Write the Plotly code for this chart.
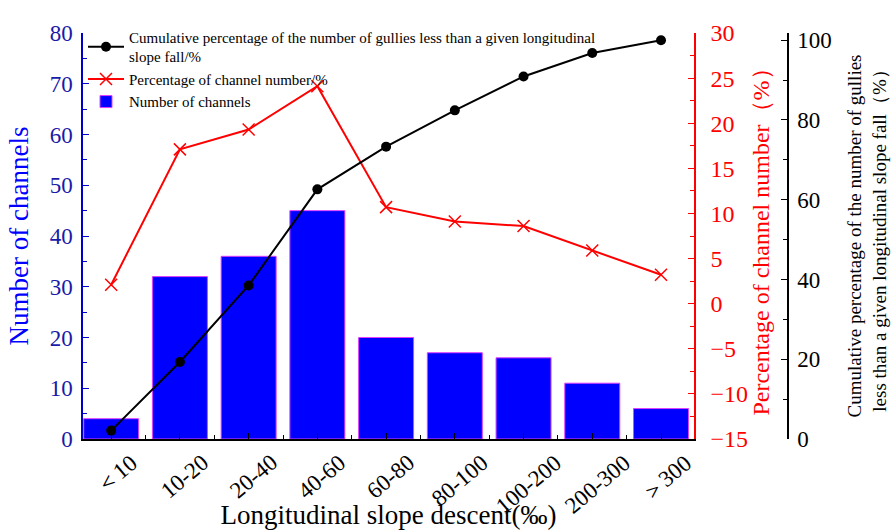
import plotly.graph_objects as go

categories = ["＜10", "10-20", "20-40", "40-60", "60-80", "80-100", "100-200", "200-300", "＞300"]
channel_counts = [4, 32, 36, 45, 20, 17, 16, 11, 6]
channel_percent = [2.1, 17.1, 19.3, 24.1, 10.7, 9.1, 8.6, 5.9, 3.2]
cumulative_percent = [2.1, 19.3, 38.5, 62.6, 73.3, 82.4, 90.9, 96.8, 100.0]

xpos = list(range(len(categories)))
FONT = "Liberation Serif, Times New Roman, serif"

fig = go.Figure()
fig.add_trace(go.Bar(
    x=xpos, y=channel_counts, name="Number of channels",
    marker=dict(color="#0000ff", line=dict(color="#e040ff", width=1)),
    width=0.8, yaxis="y", legendrank=3,
))
fig.add_trace(go.Scatter(
    x=xpos, y=cumulative_percent, yaxis="y3", mode="lines+markers",
    name="Cumulative percentage of the number of gullies less than a given longitudinal<br>slope fall/%",
    line=dict(color="black", width=2), marker=dict(symbol="circle", size=10, color="black"),
    legendrank=1,
))
fig.add_trace(go.Scatter(
    x=xpos, y=channel_percent, yaxis="y2", mode="lines+markers",
    name="Percentage of channel number/%",
    line=dict(color="#ff0000", width=2),
    marker=dict(symbol="x-thin", size=12, line=dict(color="#ff0000", width=1.5)),
    legendrank=2,
))

# category labels under the x axis, placed through the x axis scale
for xp, lab in zip(xpos, categories):
    fig.add_annotation(
        x=xp, xref="x", y=0, yref="paper", text=lab, showarrow=False,
        textangle=-40, xanchor="center", yanchor="top", xshift=5, yshift=-8,
        font=dict(size=23, family=FONT, color="black"),
    )

fig.update_layout(
    width=893, height=532,
    margin=dict(l=83, r=105, t=33, b=93),
    paper_bgcolor="white", plot_bgcolor="white",
    font=dict(family=FONT, color="black"),
    showlegend=True,
    legend=dict(x=0.0, y=1.03, xanchor="left", yanchor="top",
                bgcolor="rgba(0,0,0,0)", font=dict(size=15, family=FONT),
                tracegroupgap=0, itemwidth=36),
    bargap=0.2,
    xaxis=dict(
        domain=[0, 611 / 705], range=[-0.41, 8.48], automargin=False,
        tickmode="array", tickvals=xpos, ticktext=categories, showticklabels=False,
        ticks="inside", ticklen=6, tickcolor="black",
        minor=dict(ticks="inside", tick0=0.5, dtick=1, ticklen=4, tickcolor="black"),
        showline=True, linecolor="black", linewidth=1.5,
        showgrid=False, zeroline=False,
        title=dict(text="Longitudinal slope descent(‰)", font=dict(size=27, family=FONT, color="black"), standoff=65),
    ),
    yaxis=dict(
        range=[0, 80], dtick=10, tick0=0, automargin=False,
        ticks="inside", ticklen=6, tickcolor="#0000cd", ticklabelstandoff=4,
        minor=dict(ticks="inside", dtick=5, ticklen=4, tickcolor="#0000cd"),
        tickfont=dict(size=23, family=FONT, color="#1a1aa8"),
        showline=True, linecolor="#0000cd", linewidth=1.5,
        showgrid=False, zeroline=False,
        title=dict(text="Number of channels", font=dict(size=27, family=FONT, color="#0000ff"), standoff=13),
    ),
    yaxis2=dict(
        overlaying="y", side="right", anchor="x", automargin=False,
        range=[-15, 30], dtick=5, tick0=0,
        ticks="inside", ticklen=6, tickcolor="#ff0000", ticklabelstandoff=10,
        minor=dict(ticks="inside", dtick=2.5, ticklen=4, tickcolor="#ff0000"),
        tickfont=dict(size=24, family=FONT, color="#ff0000"),
        showline=True, linecolor="#ff0000", linewidth=1.5,
        showgrid=False, zeroline=False,
        title=dict(text="Percentage of channel number（%）", font=dict(size=24, family=FONT, color="#ff0000"), standoff=0),
    ),
    yaxis3=dict(
        overlaying="y", side="right", anchor="free", position=1.0, automargin=False,
        range=[0, 101.8], dtick=20, tick0=0,
        ticks="inside", ticklen=6, tickcolor="black", ticklabelstandoff=4,
        minor=dict(ticks="inside", dtick=10, ticklen=4, tickcolor="black"),
        tickfont=dict(size=23, family=FONT, color="black"),
        showline=True, linecolor="black", linewidth=1.5,
        showgrid=False, zeroline=False,
        title=dict(text="Cumulative percentage of the number of gullies<br>less than a given longitudinal slope fall（%）",
                   font=dict(size=19, family=FONT, color="black"), standoff=16),
    ),
)

fig.write_html("out.html", config={"displayModeBar": False},
               post_script="document.body.style.margin='0px';")
